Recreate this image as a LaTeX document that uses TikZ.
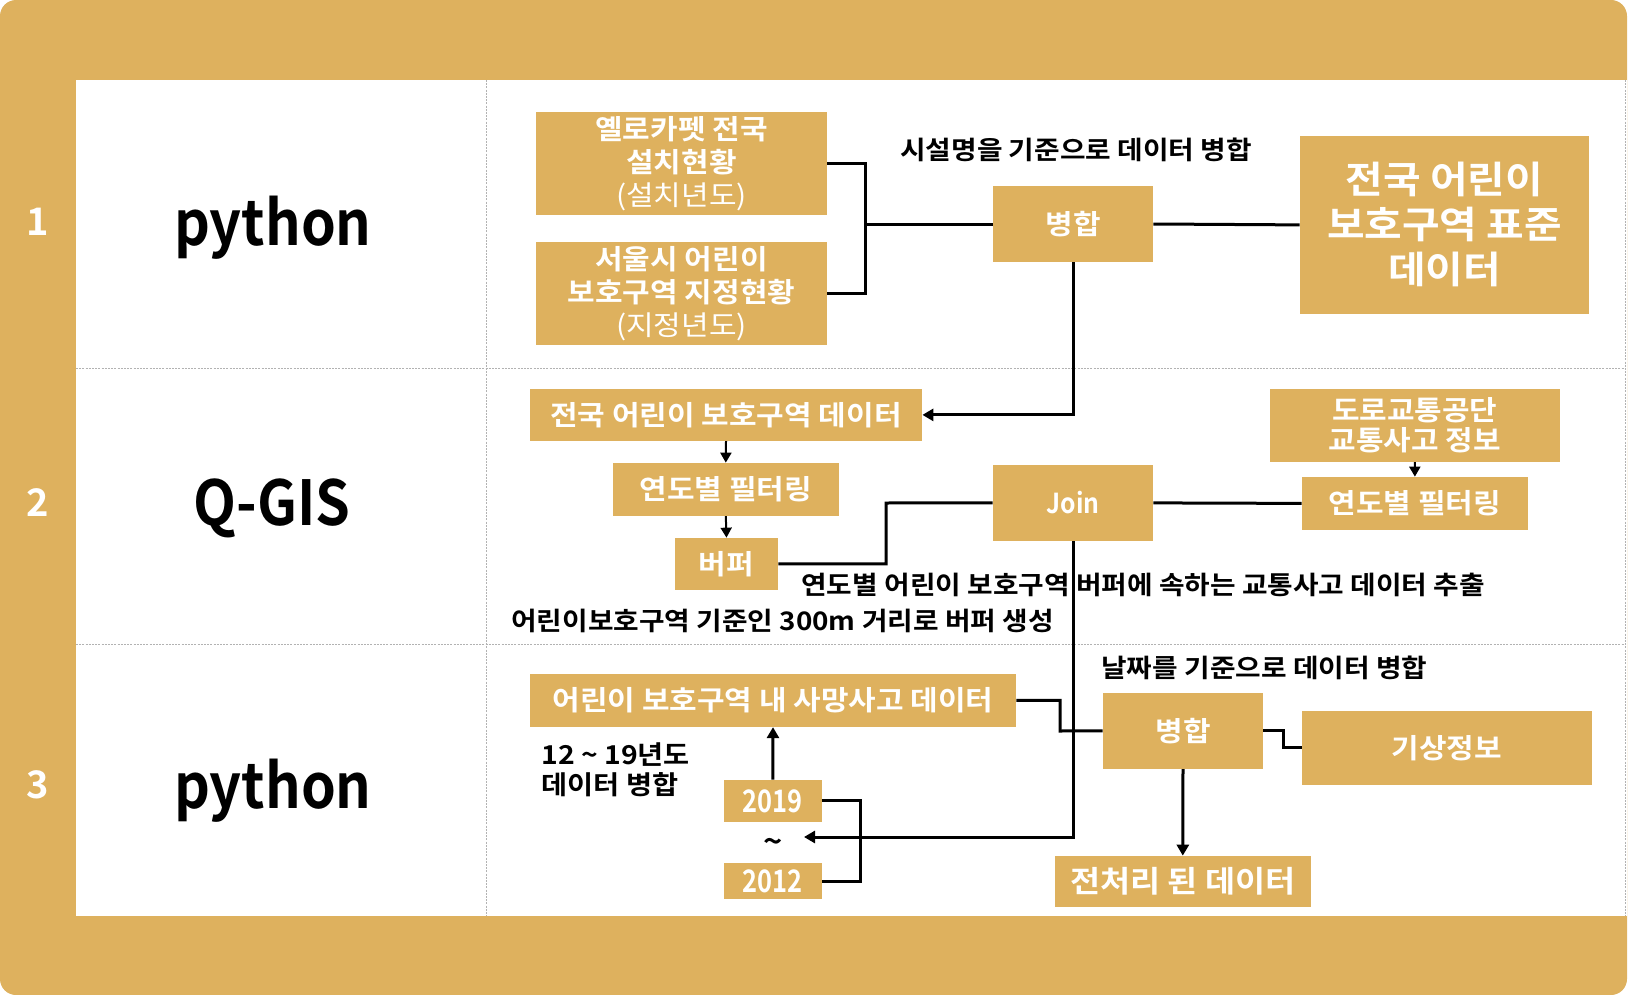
\documentclass[tikz,border=0pt]{standalone}
\usepackage{fontspec}
\setmainfont{Noto Sans CJK KR}[BoldFont={Noto Sans CJK KR Bold}, FakeStretch=1.09]
\newfontfamily\plainb{Noto Sans CJK KR Bold}
\newfontfamily\latn{Noto Sans CJK KR Bold}[FakeStretch=0.9]
\newfontfamily\digs{Noto Sans CJK KR Bold}[FakeStretch=0.82]
\usetikzlibrary{arrows.meta}
\definecolor{gold}{RGB}{222,177,94}
\begin{document}
\begin{tikzpicture}[x=0.5pt,y=-0.5pt,
  gbox/.style={fill=gold, inner sep=0pt, align=center, text=white, font=\bfseries\fontsize{13.75}{16.5}\selectfont},
  sz/.style 2 args={minimum width=#1*0.5pt, minimum height=#2*0.5pt},
  lbl/.style={inner sep=0pt, font=\bfseries\fontsize{12.75}{15}\selectfont, text=black},
  numl/.style={inner sep=0pt, text=white, font=\plainb\fontsize{19}{22}\selectfont},
  tool/.style={inner sep=0pt, text=black, font=\latn\fontsize{31}{34}\selectfont},
  conn/.style={line width=1.5pt, black},
  arr/.style={conn, -{Triangle[length=5.5pt,width=6pt]}},
  sarr/.style={line width=1pt, black, -{Triangle[length=5pt,width=5.5pt]}},
  gridl/.style={gray!60, line width=0.5pt, dash pattern=on 1pt off 0.6pt}]
\useasboundingbox (0,0) rectangle (1629,995);
\fill[gold, rounded corners=8pt] (0,0) rectangle (1627,995);
\fill[white] (76,80) rectangle (1627,916);
\draw[gridl] (76,368) -- (1625,368);
\draw[gridl] (76,644) -- (1625,644);
\draw[gridl] (486,80) -- (486,916);
\draw[gridl] (1625,80) -- (1625,916);
% left column
\node[numl] (n1) at (38,222) {1};
\node[numl] (n2) at (38,503) {2};
\node[numl] (n3) at (38,785) {3};
\node[tool, anchor=base] (t1) at (273,245) {python};
\node[tool, anchor=base] (t2) at (272,525) {Q-GIS};
\node[tool, anchor=base] (t3) at (273,808) {python};
% row 1
\node[gbox, sz={291}{102.7}] (A) at (681.5,163.4) {옐로카펫 전국\\설치현황\\{\mdseries (설치년도)}};
\node[gbox, sz={291}{102.7}] (B) at (681.5,293.4) {서울시 어린이\\보호구역 지정현황\\{\mdseries (지정년도)}};
\node[gbox, sz={160}{76}] (m1) at (1073,224) {병합};
\node[gbox, sz={289}{177.7}, font=\bfseries\fontsize{18.75}{22.5}\selectfont] (big) at (1444.5,224.9) {전국 어린이\\보호구역 표준\\데이터};
\node[lbl] (l1) at (1076,150) {시설명을 기준으로 데이터 병합};
% row 2
\node[gbox, sz={392}{51.7}] (d1) at (726,414.9) {전국 어린이 보호구역 데이터};
\node[gbox, sz={225.6}{52.7}] (f1) at (725.8,489.4) {연도별 필터링};
\node[gbox, sz={103}{51.7}] (bf) at (726.5,563.9) {버퍼};
\node[gbox, sz={160}{75.7}, font=\latn\fontsize{13.75}{16}\selectfont] (join) at (1073,502.9) {Join};
\node[gbox, sz={289.6}{72.7}, font=\bfseries\fontsize{13.75}{15}\selectfont] (road) at (1414.8,425.4) {도로교통공단\\교통사고 정보};
\node[gbox, sz={225.7}{52.7}] (f2) at (1414.9,503.4) {연도별 필터링};
\node[lbl, anchor=west] (l2) at (801,585) {연도별 어린이 보호구역 버퍼에 속하는 교통사고 데이터 추출};
\node[lbl, anchor=west] (l3) at (511,621) {어린이보호구역 기준인 300m 거리로 버퍼 생성};
% row 3
\node[gbox, sz={486}{52.7}] (dd) at (773,700.4) {어린이 보호구역 내 사망사고 데이터};
\node[gbox, sz={97.5}{41.7}, font=\digs\fontsize{15.5}{17}\selectfont] (y19) at (772.8,800.9) {2019};
\node[gbox, sz={97.5}{36}, font=\digs\fontsize{15.5}{17}\selectfont] (y12) at (772.8,881.3) {2012};
\node[gbox, sz={160}{75.7}] (m2) at (1183,730.9) {병합};
\node[gbox, sz={289.5}{73.7}] (wx) at (1446.8,747.9) {기상정보};
\node[gbox, sz={256}{50.7}, font=\bfseries\fontsize{15}{17}\selectfont] (pp) at (1182.8,881.4) {전처리 된 데이터};
\node[lbl, anchor=west] (l4) at (1101,668) {날짜를 기준으로 데이터 병합};
\node[lbl, anchor=west, align=left, font=\bfseries\fontsize{13}{15}\selectfont] (l5) at (541,770) {12 \textasciitilde{} 19년도\\데이터 병합};
\node[lbl, font=\bfseries\fontsize{15}{17}\selectfont] (tl) at (773,845) {\textasciitilde};
% junctions
\coordinate (j1) at (865,224);
\coordinate (j2) at (886,503);
\coordinate (j3) at (1060,731);
\coordinate (j4) at (860,841);
\coordinate (j5) at (1283,740);
\coordinate (tend) at (804,837);
% connectors
\draw[conn] (A.east) -| (j1) |- (B.east);
\draw[conn] (j1) -- (m1.west);
\draw[conn] (m1.east) -- (big.west);
\draw[arr] (m1.south) |- (d1.east);
\draw[sarr] (d1.south) -- (f1.north);
\draw[sarr] (f1.south) -- (bf.north);
\draw[conn] (bf.east) -| (j2) -- (join.west);
\draw[sarr] (road.south) -- (f2.north);
\draw[conn] (join.east) -- (f2.west);
\draw[arr] (join.south) |- (tend);
\draw[conn] (dd.east) -| (j3) -- (m2.west);
\draw[arr] (y19.north) -- (dd.south);
\draw[conn] (y19.east) -| (j4) |- (y12.east);
\draw[conn] (m2.east) -| (j5) |- (wx.west);
\draw[arr] (m2.south) -- (pp.north);
\end{tikzpicture}
\end{document}
